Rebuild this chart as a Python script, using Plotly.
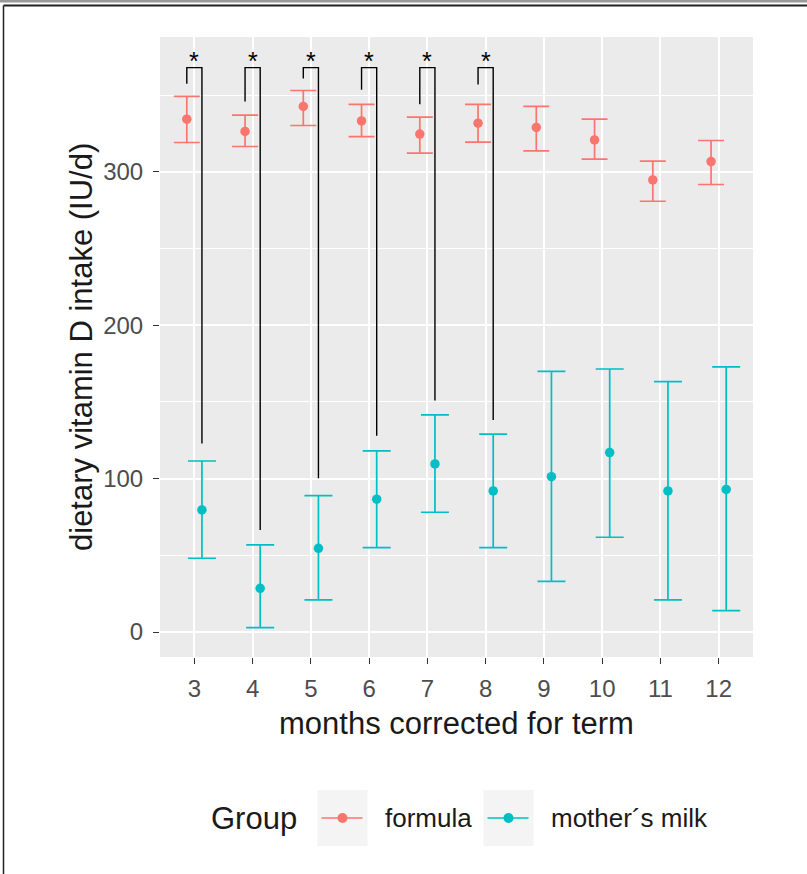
import plotly.graph_objects as go

# ---- data ----
months = [3, 4, 5, 6, 7, 8, 9, 10, 11, 12]
formula_mean = [334.4, 326.4, 342.7, 333.3, 324.7, 331.8, 329.0, 320.9, 294.8, 306.8]
formula_upper = [349.3, 337.0, 353.1, 344.0, 335.8, 344.0, 342.7, 334.4, 307.0, 320.5]
formula_lower = [319.2, 316.6, 330.3, 323.1, 312.3, 319.4, 313.8, 308.3, 280.9, 291.8]
milk_mean = [79.6, 28.5, 54.6, 86.6, 109.6, 92.0, 101.3, 117.0, 92.0, 93.0]
milk_upper = [111.5, 56.8, 88.9, 118.1, 141.6, 129.0, 170.0, 171.5, 163.3, 172.9]
milk_lower = [48.1, 2.8, 20.9, 55.0, 78.1, 55.0, 33.0, 61.8, 20.9, 13.9]

sig_months = [3, 4, 5, 6, 7, 8]
bracket_top = [368, 368, 368, 368, 368, 368]
bracket_left_end = [357.5, 346.0, 361.0, 353.6, 344.2, 357.0]
bracket_right_end = [123.0, 66.5, 100.3, 127.9, 150.9, 138.3]
sig_label = ["*", "*", "*", "*", "*", "*"]

x_ticks = [3, 4, 5, 6, 7, 8, 9, 10, 11, 12]
y_ticks = [0, 100, 200, 300]

group_title = "Group"
group_names = ["formula", "mother´s milk"]
x_title = "months corrected for term"
y_title = "dietary vitamin D intake (IU/d)"

# ---- styling ----
RED = "#F8766D"
TEAL = "#00BFC4"
group_colors = [RED, TEAL]
FONT = "Liberation Sans, Arial, sans-serif"
TXT = "#1a1a1a"
dodge = 0.13

# plot-area geometry in page pixels (used to place non-data decorations)
L, R, T, B = 160, 753, 37, 657
W, H = 807, 874


def px(xp):
    return (xp - L) / (R - L)


def py(yp):
    return (B - yp) / (B - T)


fig = go.Figure()

fx = [m - dodge for m in months]
mx = [m + dodge for m in months]

fig.add_trace(go.Scatter(
    x=fx, y=formula_mean, mode="markers", name=group_names[0], showlegend=False,
    marker=dict(color=RED, size=9.5),
    error_y=dict(type="data", symmetric=False,
                 array=[u - m for u, m in zip(formula_upper, formula_mean)],
                 arrayminus=[m - l for m, l in zip(formula_mean, formula_lower)],
                 color=RED, thickness=1.7, width=13),
))
fig.add_trace(go.Scatter(
    x=mx, y=milk_mean, mode="markers", name=group_names[1], showlegend=False,
    marker=dict(color=TEAL, size=9.5),
    error_y=dict(type="data", symmetric=False,
                 array=[u - m for u, m in zip(milk_upper, milk_mean)],
                 arrayminus=[m - l for m, l in zip(milk_mean, milk_lower)],
                 color=TEAL, thickness=1.7, width=14),
))

# significance brackets
bx, by = [], []
for m, t, le, re in zip(sig_months, bracket_top, bracket_left_end, bracket_right_end):
    bx += [m - dodge, m - dodge, m + dodge, m + dodge, None]
    by += [le, t, t, re, None]
fig.add_trace(go.Scatter(x=bx, y=by, mode="lines", showlegend=False,
                         line=dict(color="black", width=1.4), hoverinfo="skip"))

for m, t, s in zip(sig_months, bracket_top, sig_label):
    fig.add_annotation(x=m, y=t, text=s, showarrow=False, yanchor="bottom",
                       xanchor="center", yshift=-9,
                       font=dict(family=FONT, size=25, color="black"))

# axis titles
fig.add_annotation(xref="paper", yref="paper", x=0.5, y=py(723), text=x_title,
                   showarrow=False, xanchor="center", yanchor="middle",
                   font=dict(family=FONT, size=31, color=TXT))
fig.add_annotation(xref="paper", yref="paper", x=px(81), y=0.5, text=y_title,
                   showarrow=False, xanchor="center", yanchor="middle", textangle=-90,
                   font=dict(family=FONT, size=31, color=TXT))

# legend (drawn by hand to match ggplot's bottom legend)
leg_y = 818
fig.add_annotation(xref="paper", yref="paper", x=px(209), y=py(leg_y), text=group_title,
                   showarrow=False, xanchor="left", yanchor="middle",
                   font=dict(family=FONT, size=31, color=TXT))
key_left = [317.5, 483.5]
label_left = [382.5, 548.5]
for name, col, kl, ll in zip(group_names, group_colors, key_left, label_left):
    fig.add_shape(type="rect", xref="paper", yref="paper",
                  x0=px(kl), x1=px(kl + 50), y0=py(leg_y + 28), y1=py(leg_y - 28),
                  fillcolor="#F4F4F4", line=dict(width=0), layer="below")
    fig.add_shape(type="line", xref="paper", yref="paper",
                  x0=px(kl + 4), x1=px(kl + 45), y0=py(leg_y), y1=py(leg_y),
                  line=dict(color=col, width=1.7))
    fig.add_shape(type="circle", xref="paper", yref="paper",
                  xsizemode="pixel", ysizemode="pixel",
                  xanchor=px(kl + 25), yanchor=py(leg_y),
                  x0=-5, x1=5, y0=-5, y1=5,
                  fillcolor=col, line=dict(width=0))
    fig.add_annotation(xref="paper", yref="paper", x=px(ll), y=py(leg_y), text=name,
                       showarrow=False, xanchor="left", yanchor="middle",
                       font=dict(family=FONT, size=26, color=TXT))

# frame lines around the image
fig.add_shape(type="rect", xref="paper", yref="paper", x0=px(-5), x1=px(W + 5),
              y0=py(2.5), y1=py(-5),
              fillcolor="#9a9a9a", line=dict(width=0), layer="above")
fig.add_shape(type="line", xref="paper", yref="paper", x0=px(3.5), x1=px(W + 5),
              y0=py(5.5), y1=py(5.5), line=dict(color="#222", width=2), layer="above")
fig.add_shape(type="line", xref="paper", yref="paper", x0=px(3.5), x1=px(3.5),
              y0=py(5.5), y1=py(H + 5), line=dict(color="#222", width=1.5), layer="above")

fig.update_layout(
    width=W, height=H,
    margin=dict(l=L, r=W - R, t=T, b=H - B),
    paper_bgcolor="white", plot_bgcolor="#EBEBEB",
    font=dict(family=FONT, color=TXT),
    showlegend=False,
    xaxis=dict(range=[2.41, 12.59], tickvals=x_ticks, ticktext=[str(v) for v in x_ticks],
               showgrid=True, gridcolor="white", gridwidth=2, zeroline=False,
               ticks="outside", ticklen=6, tickwidth=1.3, tickcolor="#333333",
               ticklabelstandoff=4,
               tickfont=dict(family=FONT, size=24, color="#4D4D4D")),
    yaxis=dict(range=[-16.3, 388], tickvals=y_ticks,
               showgrid=True, gridcolor="white", gridwidth=2, zeroline=False,
               minor=dict(tick0=50, dtick=100, showgrid=True, gridcolor="white", gridwidth=1),
               ticks="outside", ticklen=6, tickwidth=1.3, tickcolor="#333333",
               ticklabelstandoff=5,
               tickfont=dict(family=FONT, size=24, color="#4D4D4D")),
)

fig.write_html("out.html", config={"displayModeBar": False},
               post_script="document.body.style.margin='0';")
